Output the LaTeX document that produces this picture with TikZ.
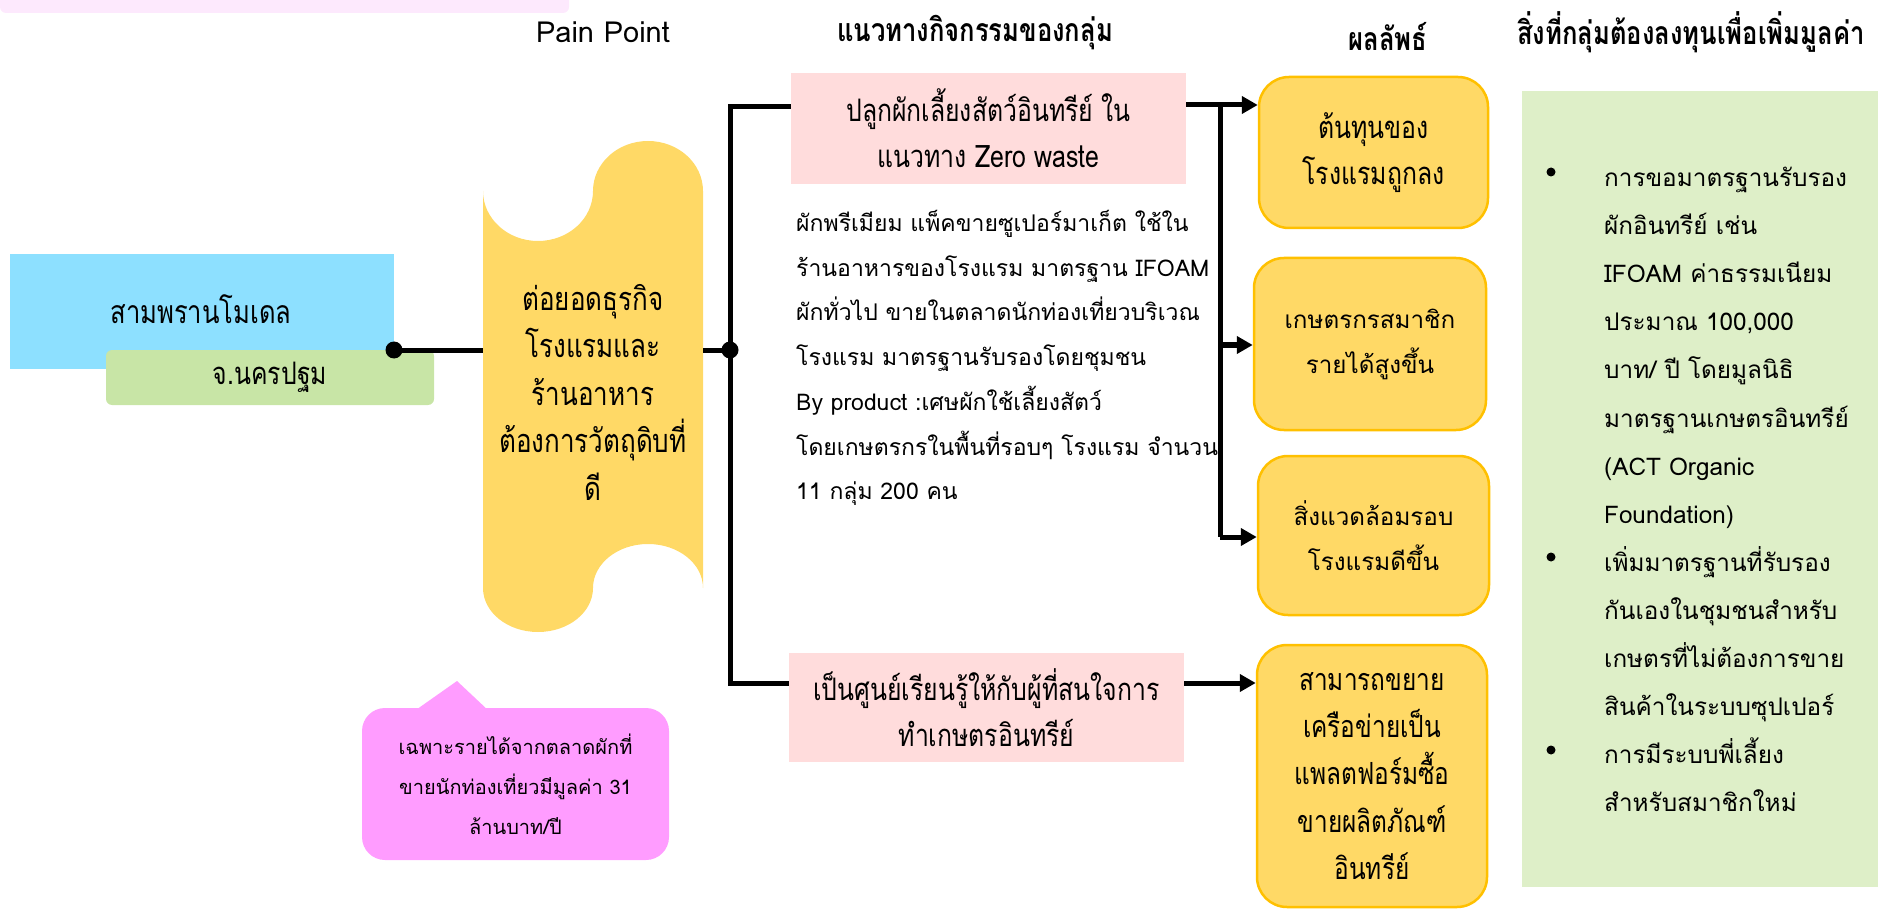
\documentclass[tikz,border=0pt]{standalone}
\usepackage{fontspec}
\setmainfont[Script=Thai]{Loma}
\newfontfamily\condfont[Script=Thai,FakeStretch=0.8]{Loma}
\usetikzlibrary{arrows.meta}
\definecolor{cBlue}{HTML}{8DE0FF}
\definecolor{cGreenS}{HTML}{C8E5A6}
\definecolor{cYellow}{HTML}{FFD966}
\definecolor{cGold}{HTML}{FFC000}
\definecolor{cPink}{HTML}{FFDCDC}
\definecolor{cMag}{HTML}{FF9CFF}
\definecolor{cPanel}{HTML}{DEEFC8}
\definecolor{cTop}{HTML}{FDE9FD}
\begin{document}
\begin{tikzpicture}[x=1pt,y=-1pt,
  conn/.style={line width=5pt, black},
  arr/.style={line width=5pt, black, -{Triangle[length=16pt,width=17pt]}},
  cond/.style={font=\condfont\fontsize{31}{46}\selectfont, align=center, text=black},
  regt/.style={font=\fontsize{24.2}{45}\selectfont, align=center, text=black},
  hdr/.style={font=\condfont\bfseries\fontsize{32}{34}\selectfont, text=black},
  resbox/.style={draw=cGold, line width=2.5pt, fill=cYellow, rounded corners=30pt, inner sep=0pt},
  pinkbox/.style={fill=cPink, inner sep=0pt},
  jdot/.style={circle, fill=black, inner sep=0pt, minimum size=17pt},
  bul/.style={circle, fill=black, inner sep=0pt, minimum size=9pt}
]
\useasboundingbox (0,0) rectangle (1885,909);
% top strip
\fill[cTop, rounded corners=6pt] (0,-30) rectangle (569,13);
% headers
\node[font=\fontsize{29}{32}\selectfont] (hPain) at (603,32) {Pain Point};
\node[hdr] (hAct) at (975,33) {แนวทางกิจกรรมของกลุ่ม};
\node[hdr] (hRes) at (1388,37) {ผลลัพธ์};
\node[hdr] (hInv) at (1691,32) {สิ่งที่กลุ่มต้องลงทุนเพื่อเพิ่มมูลค่า};
% left boxes
\node[fill=cBlue, minimum width=384pt, minimum height=115pt, inner sep=0pt] (blue) at (202,311.5) {};
\node[cond, font=\condfont\fontsize{32}{46}\selectfont] (blueT) at (201,309) {สามพรานโมเดล};
\node[fill=cGreenS, rounded corners=6pt, minimum width=328pt, minimum height=55pt, inner sep=0pt, cond] (green) at (270,377.5) {จ.นครปฐม};
% pain point wave shape
\fill[cYellow] (483,191)
 .. controls (483,218.6) and (507.6,241) .. (538,241)
 .. controls (568.4,241) and (593,218.6) .. (593,191)
 .. controls (593,163.4) and (617.6,141) .. (648,141)
 .. controls (678.4,141) and (703,163.4) .. (703,191)
 -- (703,588)
 .. controls (703,563.7) and (678.4,544) .. (648,544)
 .. controls (617.6,544) and (593,563.7) .. (593,588)
 .. controls (593,612.3) and (568.4,632) .. (538,632)
 .. controls (507.6,632) and (483,612.3) .. (483,588)
 -- cycle;
\node[cond, font=\condfont\fontsize{32.5}{47.5}\selectfont] (pain) at (593,392) {ต่อยอดธุรกิจ\\โรงแรมและ\\ร้านอาหาร\\ต้องการวัตถุดิบที่\\ดี};
\coordinate (painL) at (483,350);
\coordinate (painR) at (703,350);
% callout
\fill[cMag] (413,712) -- (457,681) -- (490,712) -- cycle;
\node[fill=cMag, rounded corners=23pt, minimum width=307pt, minimum height=152pt, inner sep=0pt,
  font=\fontsize{20}{40}\selectfont, align=center] (note) at (515.5,784) {เฉพาะรายได้จากตลาดผักที่\\ขายนักท่องเที่ยวมีมูลค่า 31\\ล้านบาท/ปี};
% activity boxes
\node[pinkbox, minimum width=395pt, minimum height=111pt, cond] (pink1) at (988.5,128.5) {ปลูกผักเลี้ยงสัตว์อินทรีย์ ใน\\แนวทาง Zero waste};
\node[pinkbox, minimum width=395pt, minimum height=109pt, cond] (pink2) at (986.5,707.5) {เป็นศูนย์เรียนรู้ให้กับผู้ที่สนใจการ\\ทำเกษตรอินทรีย์};
\node[font=\fontsize{23}{44.7}\selectfont, align=left, anchor=west, inner sep=0pt] (desc) at (796,358) {ผักพรีเมียม แพ็คขายซูเปอร์มาเก็ต ใช้ใน\\ร้านอาหารของโรงแรม มาตรฐาน IFOAM\\ผักทั่วไป ขายในตลาดนักท่องเที่ยวบริเวณ\\โรงแรม มาตรฐานรับรองโดยชุมชน\\By product :เศษผักใช้เลี้ยงสัตว์\\โดยเกษตรกรในพื้นที่รอบๆ โรงแรม จำนวน\\11 กลุ่ม 200 คน};
% result boxes
\node[resbox, minimum width=229pt, minimum height=151pt, cond] (r1) at (1373.5,152.5) {ต้นทุนของ\\โรงแรมถูกลง};
\node[resbox, minimum width=232pt, minimum height=172pt, regt] (r2) at (1370,344) {เกษตรกรสมาชิก\\รายได้สูงขึ้น};
\node[resbox, minimum width=231pt, minimum height=159pt, regt] (r3) at (1373.5,535.5) {สิ่งแวดล้อมรอบ\\โรงแรมดีขึ้น};
\node[resbox, minimum width=230pt, minimum height=262pt, cond, font=\condfont\fontsize{30.5}{47.3}\selectfont] (r4) at (1372,776) {สามารถขยาย\\เครือข่ายเป็น\\แพลตฟอร์มซื้อ\\ขายผลิตภัณฑ์\\อินทรีย์};
% investment panel
\node[fill=cPanel, minimum width=356pt, minimum height=796pt, inner sep=0pt] (panel) at (1700,489) {};
\node[font=\fontsize{24.3}{48.1}\selectfont, align=left, anchor=west, inner sep=0pt] (inv) at (1604,489.5) {การขอมาตรฐานรับรอง\\ผักอินทรีย์ เช่น\\IFOAM ค่าธรรมเนียม\\ประมาณ 100,000\\บาท/ ปี โดยมูลนิธิ\\มาตรฐานเกษตรอินทรีย์\\(ACT Organic\\Foundation)\\เพิ่มมาตรฐานที่รับรอง\\กันเองในชุมชนสำหรับ\\เกษตรที่ไม่ต้องการขาย\\สินค้าในระบบซุปเปอร์\\การมีระบบพี่เลี้ยง\\สำหรับสมาชิกใหม่};
\node[bul] (b1) at (1551,172) {};
\node[bul] (b2) at (1551,557) {};
\node[bul] (b3) at (1551,750) {};
% connectors
\node[jdot] (dot1) at (394,350) {};
\node[jdot] (dot2) at (730,350) {};
\draw[conn] (dot1.center) -- (painL);
\draw[conn] (painR) -- (dot2.center);
\coordinate (j1) at (730,107);
\coordinate (j2) at (730,683);
\draw[conn] (j1 -| pink1.west) -- (j1) -- (j2) -- (j2 -| pink2.west);
\coordinate (a1) at (1220,105);
\coordinate (a2) at (1220,345);
\coordinate (a3) at (1220,537);
\draw[arr] (pink1.east |- a1) -- (r1.west |- a1);
\draw[conn] (a1) -- (a3);
\draw[arr] (a2) -- (r2.west |- a2);
\draw[arr] (a3) -- (r3.west |- a3);
\draw[arr] (pink2.east |- j2) -- (r4.west |- j2);
\end{tikzpicture}
\end{document}
